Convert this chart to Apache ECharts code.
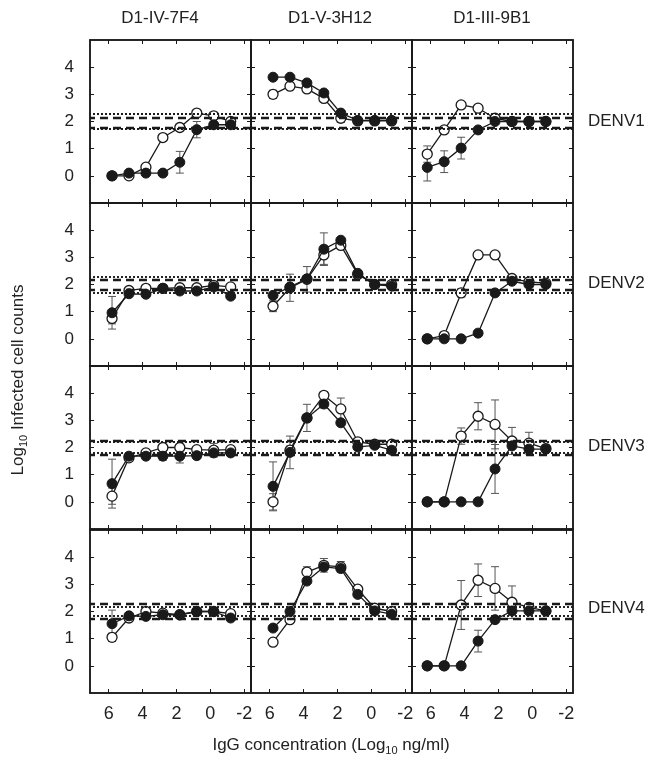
<!DOCTYPE html>
<html>
<head>
<meta charset="utf-8">
<script src="https://cdn.jsdelivr.net/npm/echarts@6/dist/echarts.min.js"></script>
<style>html,body{margin:0;padding:0;background:#fff}#main{width:649px;height:763px}</style>
</head>
<body>
<div id="main"></div>
<script>
var antibodies = ['D1-IV-7F4', 'D1-V-3H12', 'D1-III-9B1'];
var serotypes = ['DENV1', 'DENV2', 'DENV3', 'DENV4'];
// log10 IgG (ng/ml) of each dilution
var concLeft = [5.8, 4.8, 3.8, 2.8, 1.8, 0.8, -0.2, -1.2];   // 7F4 and 3H12
var concRight = [6.2, 5.2, 4.2, 3.2, 2.2, 1.2, 0.2, -0.8];  // 9B1
var xTicks = [6, 4, 2, 0, -2];
var yTicks = [0, 1, 2, 3, 4];

// one row per serotype, [7F4, 3H12, 9B1]
var denv1Filled = [[0, 0.1, 0.1, 0.1, 0.5, 1.7, 1.88, 1.88], [3.63, 3.63, 3.42, 3.05, 2.31, 2.04, 2.04, 2.04], [0.31, 0.52, 1.02, 1.69, 2.0, 2.0, 2.0, 2.0]];
var denv1Open = [[0, 0, 0.32, 1.41, 1.78, 2.31, 2.21, 2.0], [3.0, 3.3, 3.2, 2.85, 2.12, 2.02, 2.02, 2.02], [0.8, 1.69, 2.61, 2.49, 2.12, 2.0, 2.0, 2.0]];
var denv1FilledErr = [[0, 0.08, 0, 0, 0.4, 0.3, 0.1, 0.05], [0, 0, 0, 0, 0, 0, 0, 0.08], [0.5, 0.4, 0.4, 0, 0, 0, 0, 0]];
var denv1OpenErr = [[0, 0.05, 0, 0.1, 0.12, 0, 0.1, 0.08], [0.15, 0.1, 0.12, 0.05, 0.15, 0, 0, 0], [0.3, 0.1, 0, 0, 0, 0, 0, 0]];

var denv2Filled = [[0.96, 1.66, 1.64, 1.86, 1.76, 1.76, 1.91, 1.57], [1.6, 1.91, 2.21, 3.3, 3.63, 2.41, 2.0, 1.94], [0, 0, 0, 0.21, 1.69, 2.12, 2.0, 2.0]];
var denv2Open = [[0.75, 1.78, 1.86, 1.86, 1.88, 1.88, 1.97, 1.91], [1.2, 1.88, 2.19, 3.09, 3.44, 2.37, 2.0, 2.0], [0, 0.12, 1.69, 3.09, 3.09, 2.22, 2.1, 2.05]];
var denv2FilledErr = [[0.6, 0, 0, 0, 0.08, 0.1, 0, 0.05], [0, 0, 0, 0.6, 0, 0.08, 0, 0], [0, 0, 0, 0.1, 0.1, 0, 0, 0]];
var denv2OpenErr = [[0.2, 0, 0, 0, 0.12, 0, 0.08, 0], [0.2, 0.5, 0.47, 0.35, 0, 0, 0, 0.08], [0, 0.1, 0.15, 0, 0, 0, 0, 0]];

var denv3Filled = [[0.67, 1.68, 1.68, 1.68, 1.68, 1.7, 1.8, 1.8], [0.57, 1.82, 3.09, 3.6, 2.91, 2.02, 2.08, 1.9], [0, 0, 0, 0, 1.21, 2.06, 1.94, 1.94]];
var denv3Open = [[0.21, 1.62, 1.8, 2.0, 2.0, 1.92, 1.9, 1.92], [0, 1.9, 3.09, 3.92, 3.42, 2.21, 2.12, 2.12], [0, 0, 2.42, 3.15, 2.85, 2.24, 2.16, 1.96]];
var denv3FilledErr = [[0.9, 0, 0, 0.15, 0.25, 0.1, 0.1, 0], [0.9, 0.6, 0.5, 0.15, 0, 0, 0, 0], [0, 0, 0, 0, 0.9, 0, 0, 0]];
var denv3OpenErr = [[0.3, 0, 0, 0, 0, 0, 0.25, 0], [0.3, 0.15, 0, 0.05, 0.4, 0, 0, 0], [0, 0, 0.3, 0.5, 0.9, 0.5, 0.4, 0]];

var denv4Filled = [[1.55, 1.84, 1.82, 1.88, 1.88, 2.0, 2.0, 1.76], [1.39, 2.0, 3.12, 3.64, 3.58, 2.63, 2.02, 1.9], [0, 0, 0, 0.91, 1.7, 2.02, 2.02, 2.02]];
var denv4Open = [[1.05, 1.76, 2.0, 1.94, 1.88, 2.0, 2.0, 1.92], [0.87, 1.7, 3.45, 3.7, 3.64, 2.82, 2.12, 2.0], [0, 0, 2.24, 3.15, 2.85, 2.34, 2.15, 2.02]];
var denv4FilledErr = [[0.5, 0, 0, 0, 0, 0, 0, 0], [0, 0, 0, 0.1, 0.1, 0, 0, 0], [0, 0, 0, 0.4, 0.1, 0, 0, 0]];
var denv4OpenErr = [[0.15, 0, 0, 0, 0, 0, 0, 0], [0, 0, 0.2, 0.25, 0.2, 0, 0, 0], [0, 0, 0.9, 0.6, 0.8, 0.6, 0, 0]];

// background ranges per serotype [upper, lower]
var refDotted = [[2.29, 1.72], [2.28, 1.69], [2.2, 1.82], [2.18, 1.84]];
var refDashed = [[2.15, 1.78], [2.17, 1.79], [2.25, 1.74], [2.28, 1.73]];

var filledRows = [denv1Filled, denv2Filled, denv3Filled, denv4Filled];
var openRows = [denv1Open, denv2Open, denv3Open, denv4Open];
var filledErrRows = [denv1FilledErr, denv2FilledErr, denv3FilledErr, denv4FilledErr];
var openErrRows = [denv1OpenErr, denv2OpenErr, denv3OpenErr, denv4OpenErr];

var ink = '#1a1a1a';
var font = 'Liberation Sans, Arial, sans-serif';
var colLeft = [90, 251, 412];
var rowTop = [40, 203, 366, 530];
var cellW = 161, cellH = 163;

function errRender(params, api) {
  var e = api.value(2);
  if (!e) return;
  var x = api.value(0), y = api.value(1);
  var hi = api.coord([x, y + e]);
  var lo = api.coord([x, y - e]);
  var cap = 4;
  var st = { stroke: '#555', lineWidth: 1 };
  return {
    type: 'group',
    children: [
      { type: 'line', shape: { x1: hi[0], y1: hi[1], x2: lo[0], y2: lo[1] }, style: st },
      { type: 'line', shape: { x1: hi[0] - cap, y1: hi[1], x2: hi[0] + cap, y2: hi[1] }, style: st },
      { type: 'line', shape: { x1: lo[0] - cap, y1: lo[1], x2: lo[0] + cap, y2: lo[1] }, style: st }
    ]
  };
}

var grids = [], xAxes = [], yAxes = [], series = [];
for (var r = 0; r < 4; r++) {
  for (var c = 0; c < 3; c++) {
    var g = r * 3 + c;
    var conc = c === 2 ? concRight : concLeft;
    grids.push({ left: colLeft[c], top: rowTop[r], width: cellW, height: cellH, show: true, borderColor: ink, borderWidth: 1.5 });
    ['bottom', 'top'].forEach(function (pos) {
      xAxes.push({
        gridIndex: g, type: 'value', inverse: true, min: -2.4, max: 7.1, position: pos,
        axisLine: { show: true, onZero: false, lineStyle: { color: ink, width: 1.5 } },
        axisTick: { show: true, inside: true, length: 4, customValues: xTicks, lineStyle: { color: ink } },
        axisLabel: { show: pos === 'bottom' && r === 3, customValues: xTicks, margin: 12, fontSize: 18, color: '#222', fontFamily: font },
        splitLine: { show: false }
      });
    });
    ['left', 'right'].forEach(function (pos) {
      yAxes.push({
        gridIndex: g, type: 'value', min: -1, max: 5, interval: 1, position: pos,
        axisLine: { show: true, onZero: false, lineStyle: { color: ink, width: 1.5 } },
        axisTick: { show: true, inside: true, length: 4, customValues: yTicks, lineStyle: { color: ink } },
        axisLabel: { show: pos === 'left' && c === 0, customValues: yTicks, margin: 16, fontSize: 17, color: '#222', fontFamily: font },
        splitLine: { show: false }
      });
    });
    var xi = g * 2, yi = g * 2;
    var errData = [];
    conc.forEach(function (x, i) {
      errData.push([x, openRows[r][c][i], openErrRows[r][c][i]]);
      errData.push([x, filledRows[r][c][i], filledErrRows[r][c][i]]);
    });
    series.push({ type: 'custom', xAxisIndex: xi, yAxisIndex: yi, data: errData, renderItem: errRender, silent: true, z: 1 });
    series.push({
      type: 'line', xAxisIndex: xi, yAxisIndex: yi, z: 3,
      data: conc.map(function (x, i) { return [x, openRows[r][c][i]]; }),
      symbol: 'circle', symbolSize: 10,
      lineStyle: { color: ink, width: 1.3 },
      itemStyle: { color: '#fff', borderColor: ink, borderWidth: 1.3 },
      markLine: {
        silent: true, symbol: 'none', label: { show: false }, animation: false,
        data: [
          { yAxis: refDotted[r][0], lineStyle: { color: ink, width: 1.9, type: [2, 2] } },
          { yAxis: refDotted[r][1], lineStyle: { color: ink, width: 1.9, type: [2, 2] } },
          { yAxis: refDashed[r][0], lineStyle: { color: ink, width: 2.4, type: [8, 5] } },
          { yAxis: refDashed[r][1], lineStyle: { color: ink, width: 2.4, type: [8, 5] } }
        ]
      }
    });
    series.push({
      type: 'line', xAxisIndex: xi, yAxisIndex: yi, z: 4,
      data: conc.map(function (x, i) { return [x, filledRows[r][c][i]]; }),
      symbol: 'circle', symbolSize: 10,
      lineStyle: { color: ink, width: 1.3 },
      itemStyle: { color: ink, borderColor: ink, borderWidth: 1 }
    });
  }
}

var graphics = [];
var titleX = [160, 330, 492];
antibodies.forEach(function (t, i) {
  graphics.push({ type: 'text', x: titleX[i], y: 18, style: { text: t, font: '17px ' + font, fill: '#222', align: 'center', verticalAlign: 'middle' } });
});
var rowLabelY = [121, 283, 446, 608];
serotypes.forEach(function (t, i) {
  graphics.push({ type: 'text', x: 588, y: rowLabelY[i], style: { text: t, font: '17px ' + font, fill: '#222', align: 'left', verticalAlign: 'middle' } });
});
var rich = {
  a: { fontSize: 17, fontFamily: font, fill: '#222', color: '#222', lineHeight: 22 },
  s: { fontSize: 11, fontFamily: font, fill: '#222', color: '#222', lineHeight: 22, verticalAlign: 'bottom' }
};
graphics.push({ type: 'text', x: 331, y: 745, style: { text: '{a|IgG concentration (Log}{s|10}{a| ng/ml)}', rich: rich, align: 'center', verticalAlign: 'middle' } });
graphics.push({ type: 'text', x: 18, y: 380, rotation: Math.PI / 2, style: { text: '{a|Log}{s|10}{a| Infected cell counts}', rich: rich, align: 'center', verticalAlign: 'middle' } });

var myChart = echarts.init(document.getElementById('main'));
myChart.setOption({
  animation: false,
  backgroundColor: '#fff',
  grid: grids,
  xAxis: xAxes,
  yAxis: yAxes,
  series: series,
  graphic: graphics
});
</script>
</body>
</html>
